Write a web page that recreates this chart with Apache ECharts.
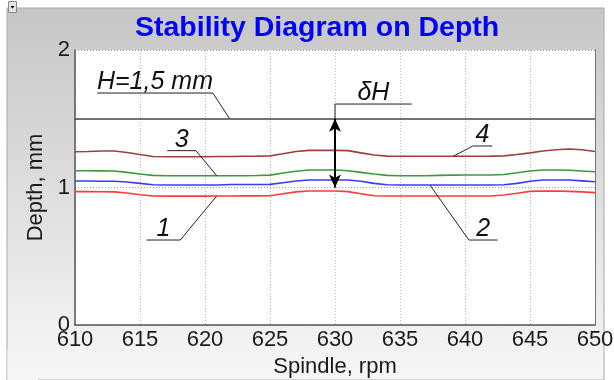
<!DOCTYPE html>
<html><head><meta charset="utf-8">
<script src="https://cdn.jsdelivr.net/npm/echarts@6/dist/echarts.min.js"></script>
<style>html,body{margin:0;padding:0;background:#fff;overflow:hidden}#c{width:614px;height:380px}</style>
</head><body><div id="c"></div>
<script>
// ---- data ----
const rpm = [610,611,612,613,614,615,616,617,618,619,620,621,622,623,624,625,626,627,628,629,630,631,632,633,634,635,636,637,638,639,640,641,642,643,644,645,646,647,648,649,650];
const curve1 = [0.970,0.970,0.969,0.968,0.960,0.947,0.938,0.937,0.937,0.937,0.937,0.938,0.938,0.939,0.939,0.940,0.955,0.968,0.975,0.975,0.975,0.970,0.955,0.940,0.938,0.938,0.938,0.938,0.938,0.938,0.938,0.938,0.938,0.945,0.958,0.972,0.974,0.974,0.972,0.968,0.963];
const curve2 = [1.047,1.047,1.046,1.046,1.040,1.030,1.020,1.018,1.018,1.018,1.018,1.018,1.022,1.022,1.022,1.023,1.035,1.047,1.055,1.055,1.055,1.055,1.045,1.030,1.020,1.018,1.018,1.018,1.018,1.018,1.018,1.018,1.018,1.020,1.030,1.045,1.055,1.055,1.054,1.048,1.042];
const curve3 = [1.122,1.122,1.121,1.120,1.110,1.098,1.088,1.085,1.085,1.085,1.085,1.085,1.085,1.086,1.087,1.090,1.105,1.118,1.127,1.127,1.127,1.122,1.110,1.098,1.088,1.085,1.085,1.085,1.088,1.090,1.091,1.091,1.091,1.095,1.107,1.120,1.127,1.127,1.125,1.120,1.115];
const curve4 = [1.260,1.262,1.265,1.265,1.255,1.240,1.226,1.224,1.224,1.224,1.224,1.225,1.226,1.227,1.228,1.230,1.245,1.262,1.270,1.270,1.270,1.268,1.252,1.236,1.228,1.227,1.227,1.227,1.227,1.227,1.227,1.227,1.228,1.230,1.240,1.252,1.265,1.275,1.280,1.275,1.262];
const levelH = 1.5;
const deltaArrow = [[630, 1.5], [630, 1.0]];
const annoTexts = ['H=1,5 mm', 'δH', '1', '2', '3', '4'];
const leaderH = [[611.7,1.687],[620.6,1.687],[621.9,1.5]];
const leaderD = [[635.9,1.607],[630,1.607],[630,1.5]];
const leader1 = [[615.5,0.618],[618.1,0.618],[620.9,0.938]];
const leader2 = [[642.5,0.618],[640.3,0.618],[637.3,1.018]];
const leader3 = [[617.1,1.268],[619.3,1.268],[620.9,1.086]];
const leader4 = [[642.1,1.302],[640.6,1.302],[639.1,1.227]];
const leaders = [leaderH, leaderD, leader1, leader2, leader3, leader4];
const titleText = 'Stability Diagram on Depth';
const xName = 'Spindle, rpm';
const yName = 'Depth, mm';

// ---- chart ----
const FONT = '"Liberation Sans", Arial, sans-serif';
const chart = echarts.init(document.getElementById('c'), null, {renderer: 'canvas'});
const pairs = ys => rpm.map((x, i) => [x, ys[i]]);
const curve = (ys, color) => ({
  type: 'line', data: pairs(ys), showSymbol: false, silent: true, smooth: false,
  lineStyle: {color: color, width: 1.6}, z: 3
});
const leaderSeries = leaders.map(d => ({
  type: 'line', data: d, showSymbol: false, silent: true,
  lineStyle: {color: '#222', width: 1}, z: 4
}));

const option = {
  animation: false,
  backgroundColor: 'transparent',
  title: {
    text: titleText, left: 130, top: 9,
    textStyle: {fontFamily: FONT, fontSize: 28.5, fontWeight: 'bold', color: '#0000ff'}
  },
  grid: {left: 75, right: 19, top: 50, bottom: 55, show: true, backgroundColor: '#ffffff',
         borderWidth: 0, containLabel: false, outerBoundsMode: 'none'},
  xAxis: {
    type: 'value', min: 610, max: 650, interval: 5,
    name: xName, nameLocation: 'middle', nameGap: 29,
    nameTextStyle: {fontFamily: FONT, fontSize: 22, color: '#1a1a1a'},
    axisLine: {lineStyle: {color: '#555', width: 1.5}},
    axisTick: {show: false},
    axisLabel: {fontFamily: FONT, fontSize: 22, color: '#1a1a1a', margin: 4},
    splitLine: {show: true, lineStyle: {color: '#b8b8b8', type: [1, 2], width: 1}}
  },
  yAxis: [{
    type: 'value', min: 0, max: 2, interval: 1,
    name: yName, nameLocation: 'middle', nameGap: 20,
    nameTextStyle: {fontFamily: FONT, fontSize: 22, color: '#1a1a1a'},
    axisLine: {show: true, lineStyle: {color: '#555', width: 1.5}},
    axisTick: {show: false},
    axisLabel: {fontFamily: FONT, fontSize: 22, color: '#1a1a1a', margin: 5},
    splitLine: {show: true, lineStyle: {color: '#999', type: [1, 2], width: 1}}
  }, {
    type: 'value', min: 0, max: 2, interval: 1, position: 'right',
    axisLine: {show: true, lineStyle: {color: '#777', width: 1}},
    axisTick: {show: false}, axisLabel: {show: false}, splitLine: {show: false}
  }],
  series: [
    curve(curve1, '#ff3b3b'),
    curve(curve2, '#3a3aff'),
    curve(curve3, '#3a9a3a'),
    curve(curve4, '#9e3f3f'),
    {
      type: 'line', data: [], silent: true,
      markLine: {
        silent: true, animation: false, symbol: ['none', 'none'],
        label: {show: false},
        lineStyle: {color: '#444', width: 1.6, type: 'solid'},
        data: [{yAxis: levelH}]
      }
    },
    {
      type: 'line', data: [], silent: true,
      markLine: {
        silent: true, animation: false, symbol: ['arrow', 'arrow'], symbolSize: [9, 13],
        label: {show: false},
        lineStyle: {color: '#000', width: 2, type: 'solid'},
        data: [[{coord: deltaArrow[0]}, {coord: deltaArrow[1]}]]
      }, z: 5
    },
    ...leaderSeries
  ]
};
chart.setOption(option);

// background panel + annotation texts centred above their leader underlines
const toPx = p => chart.convertToPixel({xAxisIndex: 0, yAxisIndex: 0}, p);
const texts = leaders.map((d, i) => {
  const a = toPx(d[0]);
  const b = toPx(d[1]);
  return {
    type: 'text', z: 10,
    x: (a[0] + b[0]) / 2, y: Math.min(a[1], b[1]) + 2,
    style: {text: annoTexts[i], fontFamily: FONT, fontSize: 25, fontStyle: 'italic',
            fill: '#111', align: 'center', verticalAlign: 'bottom'}
  };
});
const panelFill = () => new echarts.graphic.LinearGradient(0, 8, 0, 380, [
  {offset: 0, color: '#c6c6c6'}, {offset: 1, color: '#f7f7f7'}], true);
const panel = [
  {type: 'rect', shape: {x: 7, y: 8, width: 597, height: 372}, z: -10, silent: true,
   style: {fill: panelFill(), stroke: '#a8a8a8', lineWidth: 1}},
  {type: 'rect', shape: {x: 7.5, y: 350, width: 30, height: 30}, z: 1000, silent: true,
   style: {fill: panelFill()}},
  {type: 'rect', shape: {x: 8.5, y: 1.5, width: 8, height: 11}, z: 20, silent: true,
   style: {fill: '#e4e4e4', stroke: '#888', lineWidth: 1}},
  {type: 'polygon', shape: {points: [[10.5, 6], [14.5, 6], [12.5, 8.5]]}, z: 21, silent: true,
   style: {fill: '#000'}}
];
chart.setOption({graphic: panel.concat(texts)});
</script></body></html>
